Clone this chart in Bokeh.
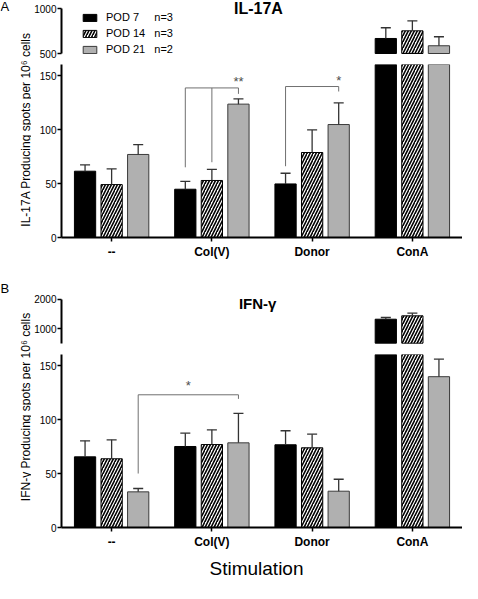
import math
from bokeh.plotting import figure
from bokeh.layouts import row, column
from bokeh.models import (ColumnDataSource, FactorRange, Range1d, FixedTicker,
                          Legend, LegendItem, Label)
from bokeh.transform import dodge
from bokeh.embed import file_html
from bokeh.resources import INLINE

# ---------------- data ----------------
categories = ["--", "Col(V)", "Donor", "ConA"]
series_names = ["POD 7", "POD 14", "POD 21"]
series_n = ["n=3", "n=3", "n=2"]

il17a_pod7 = [61.4, 44.7, 49.6, 667]
il17a_pod14 = [49.0, 52.8, 78.7, 752]
il17a_pod21 = [76.9, 123.5, 104.6, 586]
il17a_pod7_err = [67.2, 52.0, 59.5, 786]
il17a_pod14_err = [63.5, 63.0, 99.6, 863]
il17a_pod21_err = [86.0, 128.3, 124.6, 686]

ifng_pod7 = [65.6, 75.2, 76.8, 1317]
ifng_pod14 = [63.8, 77.0, 74.0, 1433]
ifng_pod21 = [33.1, 78.6, 33.7, 140]
ifng_pod7_err = [80.5, 87.6, 89.8, 1375]
ifng_pod14_err = [81.4, 90.7, 86.6, 1522]
ifng_pod21_err = [36.2, 106.0, 44.8, 156.3]

il17a_low_ticks = [0, 50, 100, 150]
il17a_high_ticks = [500, 1000]
ifng_low_ticks = [0, 50, 100, 150]
ifng_high_ticks = [1000, 2000]
il17a_break = [500, 1000]   # upper axis segment
ifng_break = [500, 2000]

# significance brackets: legs (category, series index, lower end), top, mark
il17a_sig_legs = [[("Col(V)", 0, 65.0), ("Col(V)", 1, 69.7), ("Col(V)", 2, 133.0)],
                  [("Donor", 0, 66.0), ("Donor", 2, 135.2)]]
il17a_sig_tops = [138.5, 139.8]
il17a_sig_marks = ["**", "*"]
il17a_sig_mark_y = [144.7, 145.3]
il17a_sig_mark_at = ["end", "end"]

ifng_sig_legs = [[("--", 2, 50.1), ("Col(V)", 2, 119.4)]]
ifng_sig_tops = [123.2]
ifng_sig_marks = ["*"]
ifng_sig_mark_y = [131.5]
ifng_sig_mark_at = ["middle"]

x_title = "Stimulation"

# ---------------- style ----------------
FONT = "Liberation Sans"
OFFS = [-0.265, 0.0, 0.265]
BAR_W = 0.212
CAP = 0.05
FILL = ["black", "white", "#b0b0b0"]
LINE = ["black", "black", "#3a3a3a"]
HATCH = [None, "/", None]
ERR_COLOR = "#333333"

xr = FactorRange(factors=categories, range_padding=0)


def main_fig(height, yr, border_bottom, with_xaxis):
    kw = {}
    if not with_xaxis:
        kw["x_axis_location"] = None
    p = figure(width=431, height=height, x_range=xr, y_range=yr,
               toolbar_location=None, output_backend="svg",
               min_border_left=28, min_border_right=0, min_border_top=0,
               min_border_bottom=border_bottom, outline_line_color=None,
               background_fill_color="white", **kw)
    p.grid.visible = False
    if with_xaxis:
        ax = p.xaxis[0]
        ax.axis_line_width = 2
        ax.axis_line_color = "black"
        ax.major_tick_out = 4
        ax.major_tick_in = 0
        ax.major_tick_line_width = 1.5
        ax.minor_tick_line_color = None
        ax.major_label_standoff = 3
        ax.major_label_text_font = FONT
        ax.major_label_text_font_size = "12px"
        ax.major_label_text_font_style = "bold"
        ax.major_label_text_color = "black"
    return p


def style_y(p, ticks, bounds):
    ax = p.yaxis[0]
    ax.ticker = FixedTicker(ticks=ticks)
    if bounds is not None:
        ax.bounds = tuple(bounds)
    ax.axis_line_width = 2
    ax.axis_line_color = "black"
    ax.major_tick_out = 4
    ax.major_tick_in = 0
    ax.major_tick_line_width = 1.5
    ax.minor_tick_line_color = None
    ax.major_label_standoff = 1
    ax.major_label_text_font = FONT
    ax.major_label_text_font_size = "10px"
    ax.major_label_text_color = "black"


def draw_bars(p, vals, errs, bottom, keep_min):
    rends = []
    for k in range(3):
        idx = [i for i, v in enumerate(vals[k]) if v > keep_min]
        src = ColumnDataSource(data=dict(
            cat=[categories[i] for i in idx],
            top=[vals[k][i] for i in idx],
            err=[errs[k][i] for i in idx]))
        x = dodge("cat", OFFS[k], range=xr)
        kw = dict(fill_color=FILL[k], line_color=LINE[k], line_width=1)
        if HATCH[k]:
            kw.update(hatch_pattern=HATCH[k], hatch_color="black",
                      hatch_scale=6, hatch_weight=1.6)
        r = p.vbar(x=x, top="top", bottom=bottom, width=BAR_W, source=src, **kw)
        p.segment(x0=x, y0="top", x1=x, y1="err", source=src,
                  line_color=ERR_COLOR, line_width=1.3)
        p.segment(x0=dodge("cat", OFFS[k] - CAP, range=xr), y0="err",
                  x1=dodge("cat", OFFS[k] + CAP, range=xr), y1="err",
                  source=src, line_color=ERR_COLOR, line_width=1.3)
        rends.append(r)
    return rends


def draw_brackets(p, legs_list, tops, marks, mark_y, mark_at):
    x0, y0, x1, y1 = [], [], [], []
    mx = []
    for legs, top, where in zip(legs_list, tops, mark_at):
        xpos = [categories.index(c) + 0.5 + OFFS[s] for c, s, _ in legs]
        for (c, s, lo), xp in zip(legs, xpos):
            x0.append(xp); y0.append(lo); x1.append(xp); y1.append(top)
        x0.append(min(xpos)); x1.append(max(xpos)); y0.append(top); y1.append(top)
        mx.append(max(xpos) if where == "end" else (min(xpos) + max(xpos)) / 2)
    p.segment(x0=x0, y0=y0, x1=x1, y1=y1, line_color="#707070", line_width=1)
    p.text(x=mx, y=mark_y, text=marks, text_align="center", text_baseline="middle",
           text_font={"value": FONT}, text_font_size="13px", text_color="#4d4d4d")


def blank_fig(width, height):
    f = figure(width=width, height=height, x_range=Range1d(0, width),
               y_range=Range1d(0, height), toolbar_location=None,
               output_backend="svg", min_border=0, outline_line_color=None,
               x_axis_location=None, y_axis_location=None)
    f.grid.visible = False
    return f


def label_fig(height, letter, letter_y, text, text_y):
    f = blank_fig(31, height)
    f.add_layout(Label(x=0, y=letter_y, text=letter, text_align="left",
                       text_baseline="middle", text_font=FONT,
                       text_font_size="13px", text_color="black"))
    f.add_layout(Label(x=25, y=text_y, text=text, angle=math.pi / 2,
                       text_align="center", text_baseline="middle",
                       text_font=FONT, text_font_size="12px", text_color="black"))
    return f


# ---------------- panel A ----------------
a_vals = [il17a_pod7, il17a_pod14, il17a_pod21]
a_errs = [il17a_pod7_err, il17a_pod14_err, il17a_pod21_err]

pa_up = main_fig(64, Range1d(377.8, 1088.9), 0, False)
style_y(pa_up, il17a_high_ticks, il17a_break)
a_rends = draw_bars(pa_up, a_vals, a_errs, il17a_break[0], il17a_break[0])
pa_up.add_layout(Label(x=1.72, y=1000, text="IL-17A", text_align="left",
                       text_baseline="middle", text_font=FONT,
                       text_font_size="16px", text_font_style="bold",
                       text_color="black"))
legend = Legend(items=[LegendItem(label=nm + "\u00a0" * gap + nn, renderers=[r])
                       for nm, nn, gap, r in zip(series_names, series_n, [5, 3, 3], a_rends)],
                location=(20, 7), orientation="vertical",
                glyph_width=17, glyph_height=9, label_height=16,
                label_standoff=8, spacing=0, padding=0, margin=0,
                border_line_color=None, background_fill_alpha=0,
                label_text_font=FONT, label_text_font_size="11px",
                label_text_color="black")
pa_up.add_layout(legend)

pa_lo = main_fig(218, Range1d(0, 160.2), 45, True)
style_y(pa_lo, il17a_low_ticks, None)
draw_bars(pa_lo, a_vals, a_errs, 0, -1)
draw_brackets(pa_lo, il17a_sig_legs, il17a_sig_tops, il17a_sig_marks,
              il17a_sig_mark_y, il17a_sig_mark_at)

lab_a = label_fig(282, "A", 276, "IL-17A Producing spots per 10\u2076 cells", 153)

# ---------------- panel B ----------------
b_vals = [ifng_pod7, ifng_pod14, ifng_pod21]
b_errs = [ifng_pod7_err, ifng_pod14_err, ifng_pod21_err]

pb_up = main_fig(72, Range1d(113, 2570), 0, False)
style_y(pb_up, ifng_high_ticks, ifng_break)
draw_bars(pb_up, b_vals, b_errs, ifng_break[0], ifng_break[0])
pb_up.add_layout(Label(x=1.77, y=1870, text="IFN-\u03b3", text_align="left",
                       text_baseline="middle", text_font=FONT,
                       text_font_size="15px", text_font_style="bold",
                       text_color="black"))

pb_lo = main_fig(200, Range1d(0, 160.6), 27, True)
style_y(pb_lo, ifng_low_ticks, None)
draw_bars(pb_lo, b_vals, b_errs, 0, -1)
draw_brackets(pb_lo, ifng_sig_legs, ifng_sig_tops, ifng_sig_marks,
              ifng_sig_mark_y, ifng_sig_mark_at)

lab_b = label_fig(272, "B", 266, "IFN-\u03b3 Producing spots per 10\u2076 cells", 147.5)

# x-axis title strip
stim = blank_fig(462, 27)
stim.add_layout(Label(x=256, y=13.5, text=x_title, text_align="center",
                      text_baseline="middle", text_font=FONT,
                      text_font_size="19px", text_color="black"))

layout = column(row(lab_a, column(pa_up, pa_lo)),
                row(lab_b, column(pb_up, pb_lo)),
                stim)

open("out.html", "w").write(file_html(layout, INLINE, title="IL-17A / IFN-gamma"))
